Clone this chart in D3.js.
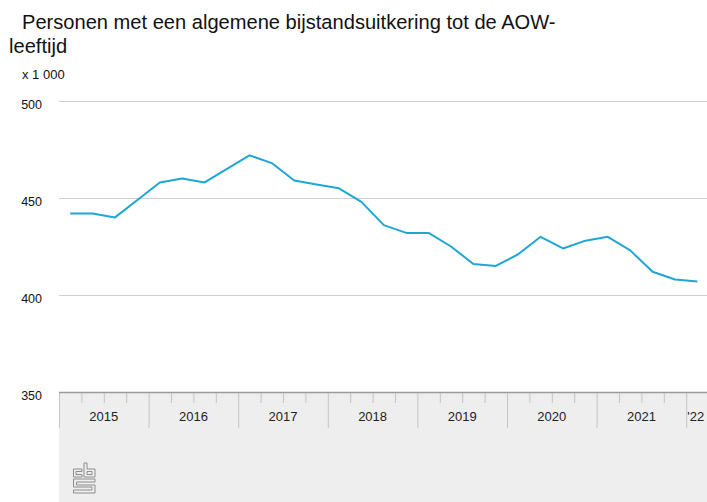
<!DOCTYPE html>
<html>
<head>
<meta charset="utf-8">
<script src="https://cdn.jsdelivr.net/npm/d3@7"></script>
<style>
  body { margin: 0; background: #fff; }
  svg text { font-family: "Liberation Sans", Arial, Helvetica, sans-serif; }
</style>
</head>
<body>
<div id="chart"></div>
<script>
var svgWidth = 707;
var svgHeight = 502;

// data: quarterly, 2015 Q1 .. 2022 Q1 (x 1 000)
var years = [2015, 2016, 2017, 2018, 2019, 2020, 2021, 2022];
var yearLabels = ["2015", "2016", "2017", "2018", "2019", "2020", "2021", "'22"];
var values = [442, 442, 440, 449, 458, 460, 458, 465, 472, 468, 459, 457, 455, 448,
              436, 432, 432, 425, 416, 415, 421, 430, 424, 428, 430, 423, 412, 408, 407];
var yTicks = [350, 400, 450, 500];
var titleLines = ["Personen met een algemene bijstandsuitkering tot de AOW-", "leeftijd"];
var unitLabel = "x 1 000";

var plotLeft = 59, plotRight = 707, plotTop = 101, plotBottom = 392;

var svg = d3.select("#chart")
        .append("svg")
        .attr("width", svgWidth)
        .attr("height", svgHeight);

// x: one unit per quarter
var xScale = d3.scaleLinear()
        .domain([0, 29]).range([plotLeft, plotLeft + 29 * 22.4]);

var yScale = d3.scaleLinear()
        .domain([350, 500]).range([plotBottom, plotTop]);

// title
svg.append("text").attr("x", 22).attr("y", 29).attr("font-size", 20.1)
        .attr("fill", "#111").text(titleLines[0]);
svg.append("text").attr("x", 9).attr("y", 53).attr("font-size", 20.1)
        .attr("fill", "#111").text(titleLines[1]);
svg.append("text").attr("x", 22).attr("y", 79).attr("font-size", 13)
        .attr("fill", "#111").text(unitLabel);

// grey band under the axis
svg.append("rect")
        .attr("x", plotLeft).attr("y", plotBottom)
        .attr("width", plotRight - plotLeft).attr("height", svgHeight - plotBottom)
        .attr("fill", "#eeeeee");

// gridlines
svg.selectAll(".grid")
        .data(yTicks.filter(function(d) { return d > 350; }))
        .enter()
        .append("line")
        .attr("class", "grid")
        .attr("x1", plotLeft).attr("x2", plotRight)
        .attr("y1", function(d) { return yScale(d) + 0.5; })
        .attr("y2", function(d) { return yScale(d) + 0.5; })
        .attr("stroke", "#d0d0d0")
        .attr("stroke-width", 1);

// y axis labels
var yAxis = d3.axisLeft(yScale).tickValues(yTicks).tickSize(0).tickPadding(0);
var gy = svg.append("g")
        .attr("transform", "translate(42, 0)")
        .call(yAxis);
gy.select(".domain").remove();
gy.selectAll("text")
        .attr("font-family", "Liberation Sans, Arial, sans-serif")
        .attr("font-size", 12.5)
        .attr("fill", "#111")
        .attr("dy", "0.58em");

// x axis: quarter ticks and year ticks
var quarterAxis = d3.axisBottom(xScale)
        .tickValues(d3.range(0, 29).filter(function(d) { return d % 4 !== 0; }))
        .tickSize(11).tickFormat("");
var gq = svg.append("g")
        .attr("transform", "translate(0, " + plotBottom + ")")
        .call(quarterAxis);
gq.select(".domain").remove();
gq.selectAll("line").attr("stroke", "#c4c4c4");

var yearAxis = d3.axisBottom(xScale)
        .tickValues(years.map(function(d, i) { return i * 4; }))
        .tickSize(36).tickFormat("");
var gyr = svg.append("g")
        .attr("transform", "translate(0, " + plotBottom + ")")
        .call(yearAxis);
gyr.select(".domain").remove();
gyr.selectAll("line").attr("stroke", "#c4c4c4");

svg.append("line")
        .attr("x1", plotLeft).attr("x2", plotRight)
        .attr("y1", plotBottom + 0.5).attr("y2", plotBottom + 0.5)
        .attr("stroke", "#9a9a9a").attr("stroke-width", 1.5);

svg.selectAll(".year")
        .data(yearLabels)
        .enter()
        .append("text")
        .attr("class", "year")
        .attr("x", function(d, i) {
            var c = xScale(i * 4 + 2);
            return c > plotRight ? xScale(i * 4) + 1 : c;
        })
        .attr("y", 421)
        .attr("font-size", 13)
        .attr("fill", "#222")
        .attr("text-anchor", function(d, i) { return xScale(i * 4 + 2) > plotRight ? "start" : "middle"; })
        .text(function(d) { return d; });

// line
var line = d3.line()
        .x(function(d, i) { return xScale(i + 0.5); })
        .y(function(d) { return yScale(d); });

svg.append("path")
        .datum(values)
        .attr("fill", "none")
        .attr("stroke", "#1ea6d4")
        .attr("stroke-width", 2)
        .attr("stroke-linejoin", "round")
        .attr("d", line);

// cbs logo
var logo = svg.append("g")
        .attr("fill", "none")
        .attr("stroke", "#8c8c8c")
        .attr("stroke-width", 1);
logo.append("path").attr("d", "M82,469 H73.5 V477 H82 V474.5 H76 V471.5 H82 Z");
logo.append("path").attr("d", "M84,463 H87 V469 H95 V477 H84 Z");
logo.append("path").attr("d", "M87,471.5 H92 V474.5 H87 Z");
logo.append("path").attr("d", "M73.5,479 H95 V482 H76.5 V485 H95 V493 H73.5 V490 H92 V487 H73.5 Z");
</script>
</body>
</html>
